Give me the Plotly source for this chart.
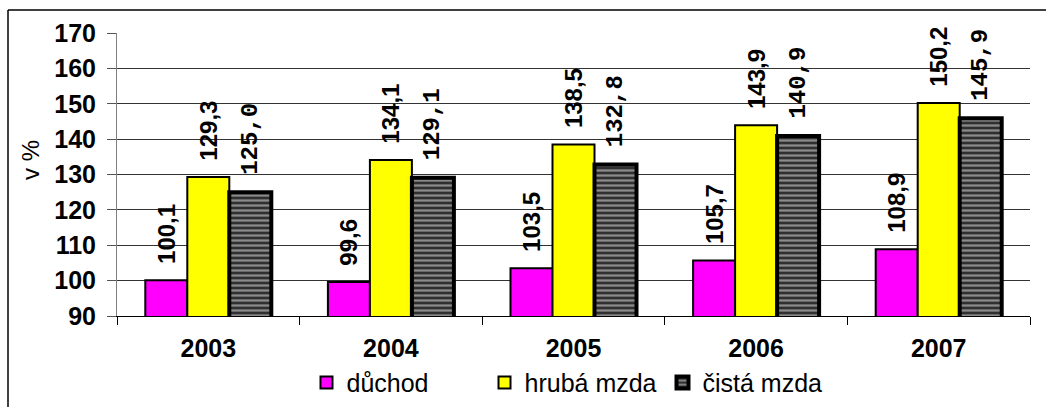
import plotly.graph_objects as go

years = ["2003", "2004", "2005", "2006", "2007"]
duchod = [100.1, 99.6, 103.5, 105.7, 108.9]
hruba = [129.3, 134.1, 138.5, 143.9, 150.2]
cista = [125.0, 129.1, 132.8, 140.9, 145.9]
series_names = ["důchod", "hrubá mzda", "čistá mzda"]
y_ticks = [90, 100, 110, 120, 130, 140, 150, 160, 170]


def fmt(v):
    return f"{v:.1f}".replace(".", ",")


W, H = 1046, 407
L, R, T, B = 117, 16, 33, 91
pw, ph = W - L - R, H - T - B


def px_x(p):
    return (p - L) / pw


def px_y(p):
    return (H - B - p) / ph


fig = go.Figure()
fig.add_trace(go.Bar(
    x=years, y=duchod, name=series_names[0],
    marker=dict(color="#FF00FF", line=dict(color="black", width=2)),
    text=["  " + fmt(v) for v in duchod], textposition="outside", textangle=-90,
    textfont=dict(family="Arial, Liberation Sans", size=24, color="black", weight="bold"),
    cliponaxis=False, constraintext="none",
))
fig.add_trace(go.Bar(
    x=years, y=hruba, name=series_names[1],
    marker=dict(color="#FFFF00", line=dict(color="black", width=2)),
    text=["  " + fmt(v) for v in hruba], textposition="outside", textangle=-90,
    textfont=dict(family="Arial, Liberation Sans", size=24, color="black", weight="bold"),
    cliponaxis=False, constraintext="none",
))
fig.add_trace(go.Bar(
    x=years, y=cista, name=series_names[2],
    marker=dict(color="#303030", line=dict(color="black", width=4),
                pattern=dict(shape="-", fgcolor="#e6e6e6", bgcolor="#303030",
                             size=5, solidity=0.45)),
    text=[" " + fmt(v) for v in cista], textposition="outside", textangle=-90,
    textfont=dict(family="Liberation Mono", size=24, color="black", weight="bold"),
    cliponaxis=False, constraintext="none",
))

fig.update_layout(
    width=W, height=H,
    margin=dict(l=L, r=R, t=T, b=B, autoexpand=False),
    paper_bgcolor="white", plot_bgcolor="white",
    barmode="group", bargap=0.31, bargroupgap=0,
    font=dict(family="Arial, Liberation Sans", color="black"),
    showlegend=True,
    legend=dict(orientation="h", x=0.5, xanchor="center", y=-0.155, yanchor="top",
                font=dict(size=25, family="Arial, Liberation Sans"),
                bgcolor="rgba(0,0,0,0)", entrywidth=133, entrywidthmode="pixels"),
)
fig.update_yaxes(
    range=[90, 170], tickvals=y_ticks, showgrid=True, gridcolor="#333", gridwidth=1,
    showline=True, linecolor="#808080", linewidth=1,
    ticks="outside", ticklen=9, tickcolor="#555",
    tickfont=dict(size=25, family="Arial, Liberation Sans", weight="bold"),
    ticklabelstandoff=6, zeroline=False,
)
fig.update_xaxes(
    showline=True, linecolor="black", linewidth=1,
    ticks="outside", ticklen=8, tickcolor="black", tickson="boundaries",
    tickfont=dict(size=25, family="Arial, Liberation Sans", weight="bold"),
    ticklabelstandoff=10,
)
# axis title
fig.add_annotation(text="v %", xref="paper", yref="paper",
                   x=px_x(30), y=px_y(160), showarrow=False,
                   xanchor="center", yanchor="middle",
                   textangle=-90, font=dict(size=24, family="Arial, Liberation Sans"))
# chart border (top and left edges; right/bottom fall outside the picture)
top_segments = [(px_x(8), 0.0), (0.0, 1.0), (1.0, px_x(1046))]
for xa, xb in top_segments:
    fig.add_shape(type="line", xref="paper", yref="paper",
                  x0=xa, x1=xb, y0=px_y(10), y1=px_y(10),
                  line=dict(color="black", width=1.5), layer="above")
fig.add_shape(type="line", xref="paper", yref="paper",
              x0=px_x(8), x1=px_x(8), y0=px_y(407), y1=px_y(10),
              line=dict(color="black", width=1.5), layer="above")

fig.write_html("out.html", config={"displayModeBar": False},
               post_script="document.body.style.margin='0';document.body.style.overflow='hidden';")
